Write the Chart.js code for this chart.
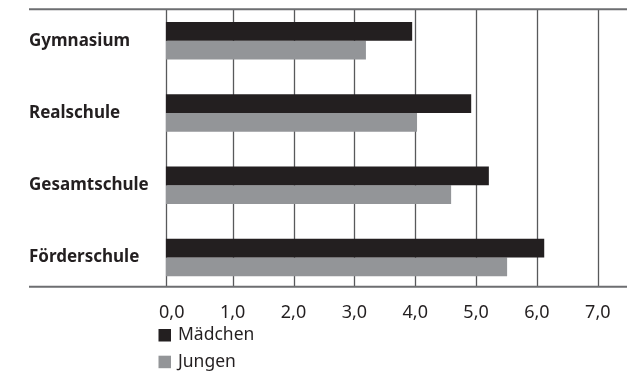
<!DOCTYPE html>
<html>
<head>
<meta charset="utf-8">
<script src="https://cdn.jsdelivr.net/npm/chart.js@4/dist/chart.umd.min.js"></script>
<style>
  html, body { margin: 0; padding: 0; background: #fff; }
  #wrap { width: 642px; height: 385px; }
</style>
</head>
<body>
<div id="wrap"><canvas id="chart"></canvas></div>
<script>
"use strict";

// Daten aus der Grafik
const schulformen = ["Gymnasium", "Realschule", "Gesamtschule", "Förderschule"];
const maedchen = [3.95, 4.92, 5.21, 6.12];
const jungen = [3.19, 4.03, 4.59, 5.51];
const tickWerte = [0, 1, 2, 3, 4, 5, 6, 7];

const FONT = "'Noto Sans', 'Open Sans', sans-serif";
const TEXT = "#231f20";

// Linien oben/unten und senkrechte Gitterlinien
const rahmenPlugin = {
    id: "rahmen",
    beforeDatasetsDraw(chart) {
        const { ctx, chartArea, scales } = chart;
        const yTop = scales.y.getPixelForDecimal(0.016);
        const yBot = scales.y.getPixelForDecimal(0.976);
        ctx.save();
        ctx.strokeStyle = "#58595b";
        ctx.lineWidth = 1.3;
        const xs = [scales.x.getPixelForValue(scales.x.min)].concat(tickWerte.slice(1).map(v => scales.x.getPixelForValue(v)));
        xs.forEach(x => {
            ctx.beginPath();
            ctx.moveTo(Math.round(x) + 0.5, yTop);
            ctx.lineTo(Math.round(x) + 0.5, yBot);
            ctx.stroke();
        });
        ctx.strokeStyle = "#6d6e71";
        ctx.lineWidth = 2;
        [yTop, yBot].forEach(y => {
            ctx.beginPath();
            ctx.moveTo(29, y);
            ctx.lineTo(chartArea.right, y);
            ctx.stroke();
        });
        ctx.restore();
    },
    afterDraw(chart) {
        // Legende untereinander
        const { ctx } = chart;
        ctx.save();
        ctx.font = "17.5px " + FONT;
        ctx.textBaseline = "middle";
        chart.data.datasets.forEach((ds, i) => {
            const y = 335.5 + i * 26.7;
            ctx.fillStyle = ds.backgroundColor;
            ctx.fillRect(158.5, y - 6.5, 12.5, 12.5);
            ctx.fillStyle = TEXT;
            ctx.fillText(ds.label, 178, y);
        });
        ctx.restore();
    }
};

new Chart(document.getElementById("chart"), {
    type: "bar",
    data: {
        labels: schulformen,
        datasets: [
            { label: "Mädchen", data: maedchen, backgroundColor: "#231f20", base: -0.1 },
            { label: "Jungen", data: jungen, backgroundColor: "#939598", base: -0.1 }
        ]
    },
    options: {
        indexAxis: "y",
        responsive: true,
        maintainAspectRatio: false,
        animation: false,
        layout: { padding: { left: 29, right: 15, top: 4.7, bottom: 61.3 } },
        datasets: { bar: { categoryPercentage: 0.52, barPercentage: 1.0 } },
        plugins: {
            legend: { display: false },
            tooltip: { enabled: false }
        },
        scales: {
            x: {
                min: -0.1,
                max: 7.48,
                grid: { display: false },
                border: { display: false },
                afterBuildTicks: (scale) => { scale.ticks = tickWerte.map(v => ({ value: v })); },
                afterFit: (scale) => { scale.height = 30; scale.paddingLeft = 0; scale.paddingRight = 0; },
                ticks: {
                    padding: 0,
                    color: TEXT,
                    font: { family: FONT, size: 18 },
                    callback: (v) => v.toFixed(1).replace(".", ",")
                }
            },
            y: {
                grid: { display: false },
                border: { display: false },
                afterFit: (scale) => { scale.width = 136.7; scale.paddingTop = 0; scale.paddingBottom = 0; },
                ticks: {
                    crossAlign: "far",
                    color: TEXT,
                    font: { family: FONT, size: 17, weight: "bold" }
                }
            }
        }
    },
    plugins: [rahmenPlugin]
});
</script>
</body>
</html>
